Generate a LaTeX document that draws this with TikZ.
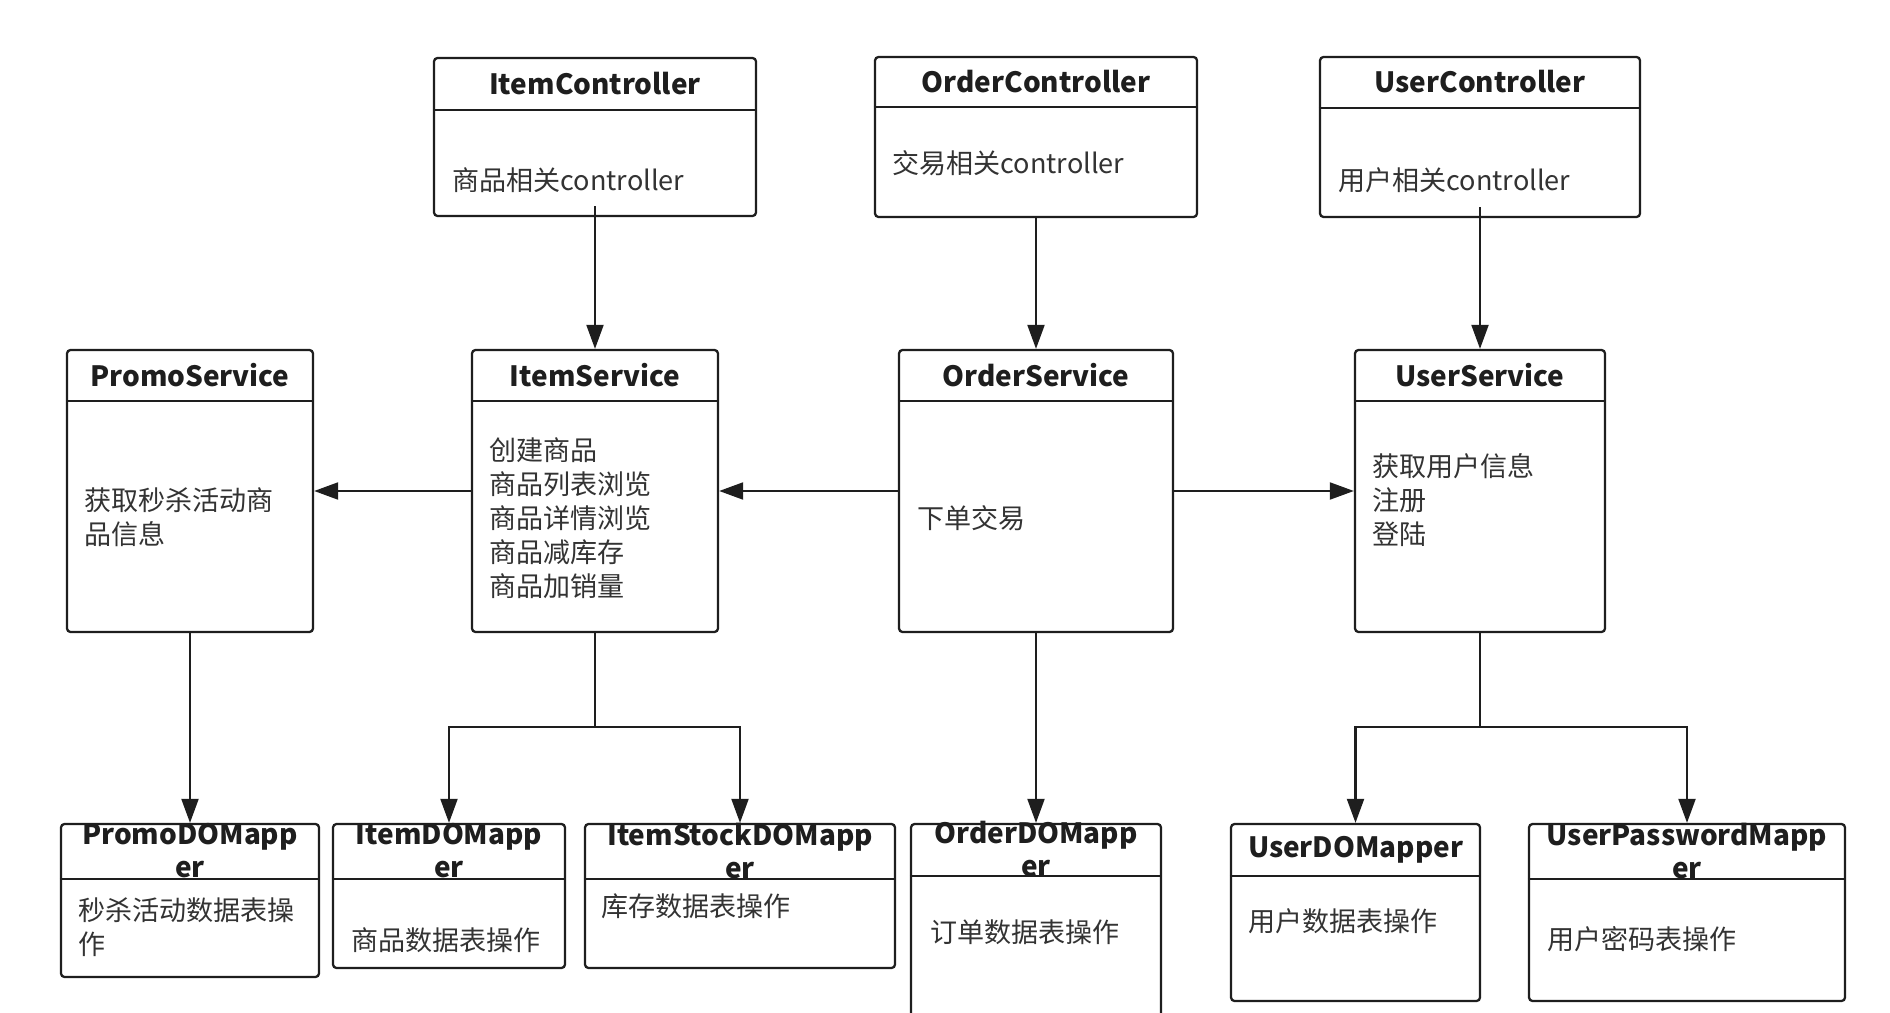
\documentclass[tikz,border=0pt]{standalone}
\usepackage{fontspec}
\setmainfont{Noto Sans CJK SC}
\usetikzlibrary{arrows.meta,fit,calc}

\definecolor{ink}{HTML}{1E1E1E}
\definecolor{textgray}{HTML}{333333}

% box with a header row: name, top-left, bottom-right, divider y, title
\newcommand{\classbox}[5]{%
  \node[box, fit={#2 #3}] (#1) {};
  \draw[divider] (#1.west |- 0,#4) -- (#1.east |- 0,#4);
  \node[title] (#1-t) at ($(#1.north)!0.5!(#1.north |- 0,#4)$) {#5};
}

\begin{document}
\begin{tikzpicture}[x=0.02cm, y=-0.02cm]
    \tikzstyle{box}=[draw=ink, line width=1.3pt, rounded corners=2pt, inner sep=0pt, fill=white]
    \tikzstyle{divider}=[draw=ink, line width=1.3pt]
    \tikzstyle{title}=[font=\bfseries\fontsize{15.9}{18.8}\selectfont, text=ink, align=center, inner sep=0pt]
    \tikzstyle{body}=[font=\fontsize{15.4}{19.3}\selectfont, text=textgray, align=left, anchor=west, inner sep=0pt]
    \tikzstyle{arr}=[draw=ink, line width=1.2pt, -{Triangle[length=13.7pt, width=9.7pt]}]
    \tikzstyle{link}=[draw=ink, line width=1.2pt]

    \useasboundingbox (0,0) rectangle (1890,1013);

    % controllers
    \classbox{itemctl}{(434,58)}{(756,216)}{110}{ItemController}
    \classbox{orderctl}{(875,57)}{(1197,217)}{107}{OrderController}
    \classbox{userctl}{(1320,57)}{(1640,217)}{108}{UserController}
    \node[body] (itemctl-b) at (452,180) {商品相关controller};
    \node[body] (orderctl-b) at (892,163) {交易相关controller};
    \node[body] (userctl-b) at (1338,180) {用户相关controller};

    % services
    \classbox{promosvc}{(67,350)}{(313,632)}{401}{PromoService}
    \classbox{itemsvc}{(472,350)}{(718,632)}{401}{ItemService}
    \classbox{ordersvc}{(899,350)}{(1173,632)}{401}{OrderService}
    \classbox{usersvc}{(1355,350)}{(1605,632)}{401}{UserService}
    \node[body] (promosvc-b) at (84,517) {获取秒杀活动商\\品信息};
    \node[body] (itemsvc-b) at (489,518) {创建商品\\商品列表浏览\\商品详情浏览\\商品减库存\\商品加销量};
    \node[body] (ordersvc-b) at (917,518) {下单交易};
    \node[body] (usersvc-b) at (1372,500) {获取用户信息\\注册\\登陆};

    % mappers
    \classbox{promomap}{(61,824)}{(319,977)}{879}{PromoDOMapp\\er}
    \classbox{itemmap}{(333,824)}{(565,968)}{879}{ItemDOMapp\\er}
    \classbox{stockmap}{(585,824)}{(895,968)}{879}{ItemStockDOMapp\\er}
    \classbox{ordermap}{(911,824)}{(1161,1040)}{876}{OrderDOMapp\\er}
    \classbox{usermap}{(1231,824)}{(1480,1001)}{876}{UserDOMapper}
    \classbox{pwdmap}{(1529,824)}{(1845,1001)}{879}{UserPasswordMapp\\er}
    \node[body] (promomap-b) at (78,927) {秒杀活动数据表操\\作};
    \node[body] (itemmap-b) at (351,940) {商品数据表操作};
    \node[body] (stockmap-b) at (601,906) {库存数据表操作};
    \node[body] (ordermap-b) at (930,932) {订单数据表操作};
    \node[body] (usermap-b) at (1248,921) {用户数据表操作};
    \node[body] (pwdmap-b) at (1547,939) {用户密码表操作};

    % controller -> service
    \draw[arr] ($(itemctl.south)+(0,-11)$) -- (itemsvc.north);
    \draw[arr] (orderctl.south) -- (ordersvc.north);
    \draw[arr] ($(userctl.south)+(0,-11)$) -- (usersvc.north);

    % service -> service
    \draw[arr] (itemsvc.west) -- (promosvc.east);
    \draw[arr] (ordersvc.west) -- (itemsvc.east);
    \draw[arr] (ordersvc.east) -- (usersvc.west);

    % service -> mapper
    \coordinate (itemfork) at (595,727);
    \coordinate (userfork) at (1480,727);
    \draw[arr] (promosvc.south) -- (promomap.north);
    \draw[link] (itemsvc.south) -- (itemfork);
    \draw[arr] (itemfork) -| (itemmap.north);
    \draw[arr] (itemfork) -| (stockmap.north);
    \draw[arr] (ordersvc.south) -- (ordermap.north);
    \draw[link] (usersvc.south) -- (userfork);
    \draw[arr] (userfork) -| (usermap.north);
    \draw[arr] (userfork) -| (pwdmap.north);
\end{tikzpicture}
\end{document}
